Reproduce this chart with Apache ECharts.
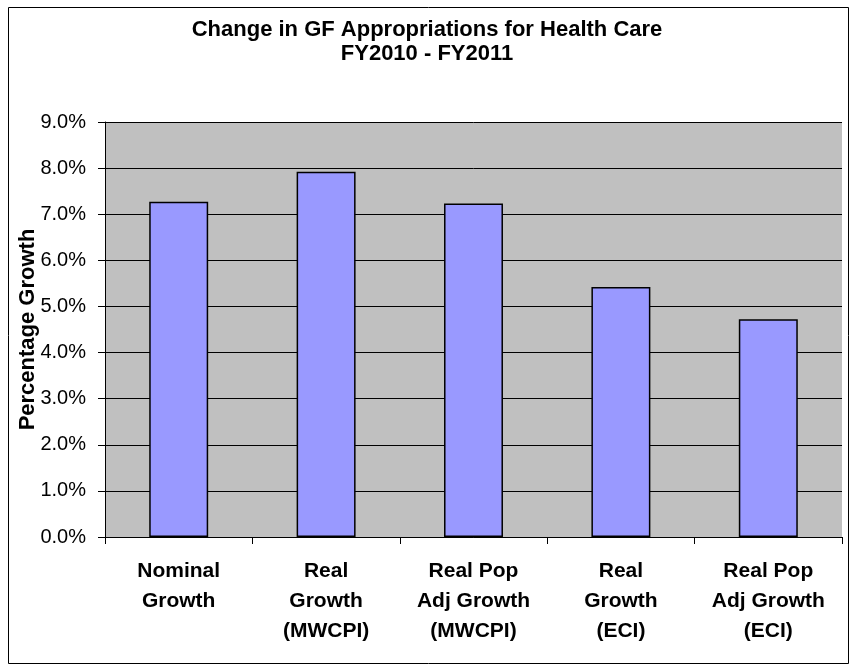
<!DOCTYPE html>
<html>
<head>
<meta charset="utf-8">
<script src="https://cdn.jsdelivr.net/npm/echarts@6/dist/echarts.min.js"></script>
<style>
  html, body { margin: 0; padding: 0; background: #fff; }
  #chart { width: 854px; height: 669px; }
</style>
</head>
<body>
<div id="chart"></div>
<script>
// chart data
const categories = [
  'Nominal\nGrowth',
  'Real\nGrowth\n(MWCPI)',
  'Real Pop\nAdj Growth\n(MWCPI)',
  'Real\nGrowth\n(ECI)',
  'Real Pop\nAdj Growth\n(ECI)'
]
const growthPct = [7.27, 7.92, 7.23, 5.42, 4.72]
const yTicks = [0, 1, 2, 3, 4, 5, 6, 7, 8, 9]

const font = '"Liberation Sans", Arial, sans-serif'

const chart = echarts.init(document.getElementById('chart'))

chart.setOption({
  animation: false,
  backgroundColor: '#ffffff',
  graphic: [{
    type: 'rect',
    shape: { x: 8.5, y: 7.5, width: 840, height: 656 },
    style: { fill: 'none', stroke: '#000', lineWidth: 1 },
    silent: true
  }],
  title: {
    text: 'Change in GF Appropriations for Health Care\nFY2010 - FY2011',
    left: 'center',
    top: 13,
    textStyle: {
      fontFamily: font,
      fontWeight: 'bold',
      fontSize: 22,
      lineHeight: 24,
      color: '#000'
    }
  },
  grid: {
    left: 105,
    right: 12,
    top: 122,
    bottom: 132,
    show: true,
    backgroundColor: '#C0C0C0',
    borderWidth: 0
  },
  xAxis: {
    type: 'category',
    data: categories,
    axisLine: { lineStyle: { color: '#000', width: 1 } },
    axisTick: { show: true, length: 7, lineStyle: { color: '#000' } },
    axisLabel: {
      interval: 0,
      margin: 19,
      fontFamily: font,
      fontWeight: 'bold',
      fontSize: 21,
      lineHeight: 30,
      color: '#000'
    }
  },
  yAxis: {
    type: 'value',
    min: yTicks[0],
    max: yTicks[yTicks.length - 1],
    interval: 1,
    name: 'Percentage Growth',
    nameLocation: 'middle',
    nameGap: 66,
    nameMoveOverlap: false,
    nameTextStyle: {
      fontFamily: font,
      fontWeight: 'bold',
      fontSize: 22,
      color: '#000'
    },
    axisLine: { show: true, lineStyle: { color: '#000', width: 1 } },
    axisTick: { show: true, length: 7, lineStyle: { color: '#000' } },
    axisLabel: {
      margin: 19,
      fontFamily: font,
      fontSize: 20,
      color: '#000',
      formatter: v => v.toFixed(1) + '%'
    },
    splitLine: { show: true, lineStyle: { color: '#000', width: 1 } }
  },
  series: [{
    type: 'bar',
    data: growthPct,
    barWidth: '40%',
    itemStyle: {
      color: '#9999FF',
      borderColor: '#000',
      borderWidth: 1.5
    }
  }]
})
</script>
</body>
</html>
